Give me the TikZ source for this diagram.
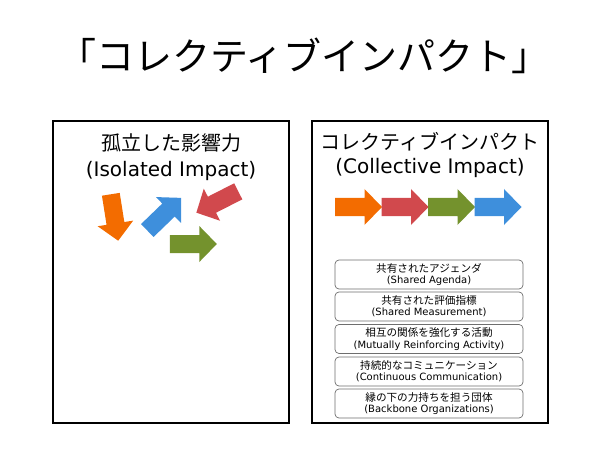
\documentclass[tikz,border=0pt]{standalone}
\usepackage{fontspec}
\setmainfont{DejaVu Sans}
\newfontfamily\jp{Noto Sans CJK JP}
\definecolor{cOrange}{RGB}{243,108,0}
\definecolor{cRed}{RGB}{209,73,77}
\definecolor{cGreen}{RGB}{116,146,45}
\definecolor{cBlue}{RGB}{62,143,220}
\definecolor{cBorder}{RGB}{110,110,110}
\begin{document}
\begin{tikzpicture}[x=1pt,y=-1pt,
  panel/.style={draw=black,line width=2pt,minimum width=236pt,minimum height=302pt,inner sep=0pt},
  item/.style={draw=cBorder,line width=0.7pt,rounded corners=4pt,fill=white,minimum width=188pt,minimum height=29pt,align=center,inner sep=0pt,font=\fontsize{10}{11.2}\selectfont},
  fatarrow/.pic={\fill[#1] (-23.5,-9) -- (6,-9) -- (6,-18) -- (23.5,0) -- (6,18) -- (6,9) -- (-23.5,9) -- cycle;}
]
\useasboundingbox (0,0) rectangle (610,457);
\node (title) at (304,56) {\jp\fontsize{38}{40}\selectfont 「コレクティブインパクト」};
\node[panel] (left) at (171,272) {};
\node[panel] (right) at (430,272) {};
\node (ljp) at (171,143) {\jp\fontsize{20}{22}\selectfont 孤立した影響力};
\node (len) at (171,171) {\fontsize{20}{22}\selectfont (Isolated Impact)};
\node (rjp) at (430,142) {\jp\fontsize{20}{22}\selectfont コレクティブインパクト};
\node (ren) at (430,168) {\fontsize{20}{22}\selectfont (Collective Impact)};
\pic[rotate=-81] at (114.5,217.5) {fatarrow=cOrange};
\pic[rotate=44] at (164.2,214.2) {fatarrow=cBlue};
\pic[rotate=-153] at (217.3,202) {fatarrow=cRed};
\pic at (193.3,244) {fatarrow=cGreen};
\pic at (358.5,207) {fatarrow=cOrange};
\pic at (405,207) {fatarrow=cRed};
\pic at (451.5,207) {fatarrow=cGreen};
\pic at (498,207) {fatarrow=cBlue};
\node[item] (i1) at (429,274.5) {{\jp\fontsize{10.6}{11.2}\selectfont 共有されたアジェンダ}\\(Shared Agenda)};
\node[item] (i2) at (429,306.5) {{\jp\fontsize{10.6}{11.2}\selectfont 共有された評価指標}\\(Shared Measurement)};
\node[item] (i3) at (429,339) {{\jp\fontsize{10.6}{11.2}\selectfont 相互の関係を強化する活動}\\(Mutually Reinforcing Activity)};
\node[item] (i4) at (429,371.5) {{\jp\fontsize{10.6}{11.2}\selectfont 持続的なコミュニケーション}\\(Continuous Communication)};
\node[item] (i5) at (429,403.5) {{\jp\fontsize{10.6}{11.2}\selectfont 縁の下の力持ちを担う団体}\\(Backbone Organizations)};
\end{tikzpicture}
\end{document}
